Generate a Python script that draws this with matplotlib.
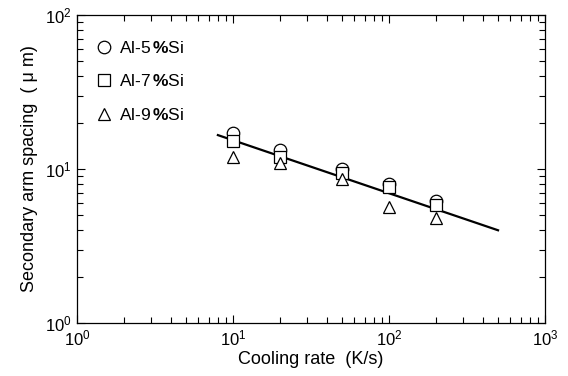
import numpy as np
import matplotlib
matplotlib.use('Agg')
import matplotlib.pyplot as plt

# --- Data ---
cooling_rate = [10, 20, 50, 100, 200]
sdas_al5 = [17.1, 13.3, 10.0, 8.0, 6.2]
sdas_al7 = [15.3, 12.0, 9.4, 7.6, 5.8]
sdas_al9 = [11.9, 10.9, 8.6, 5.7, 4.8]

fit_x = [8, 500]
fit_y = [16.6, 4.0]

labels = [r'Al-5$\,\mathbf{\%}$Si', r'Al-7$\,\mathbf{\%}$Si', r'Al-9$\,\mathbf{\%}$Si']

plt.rcParams['font.family'] = ['Liberation Sans', 'DejaVu Sans']
plt.rcParams['mathtext.fontset'] = 'custom'
plt.rcParams['mathtext.rm'] = 'Liberation Sans'
plt.rcParams['mathtext.it'] = 'Liberation Sans:italic'
plt.rcParams['mathtext.bf'] = 'Liberation Sans:bold'

fig = plt.figure(figsize=(5.68, 3.76), dpi=100)
ax = fig.add_axes([0.1356, 0.141, 0.8239, 0.8191])

# fitted line under the markers
ax.plot(fit_x, fit_y, color='black', lw=1.6, zorder=2)

mk = dict(ls='none', ms=9, mfc='white', mec='black', mew=0.9)
ax.plot(cooling_rate, sdas_al5, marker='o', label=labels[0], zorder=3, **mk)
ax.plot(cooling_rate, sdas_al7, marker='s', label=labels[1], zorder=4, **mk)
ax.plot(cooling_rate, sdas_al9, marker='^', label=labels[2], zorder=5, **mk)

ax.set_xscale('log')
ax.set_yscale('log')
ax.set_xlim(1, 1000)
ax.set_ylim(1, 100)

ax.set_xlabel('Cooling rate  (K/s)', fontsize=13, labelpad=2)
ax.set_ylabel('Secondary arm spacing  ( \u03bc m)', fontsize=13, labelpad=5)

ax.tick_params(which='both', direction='in', top=True, right=True, labelsize=12)
ax.tick_params(which='major', length=6, width=0.8, pad=4)
ax.tick_params(which='minor', length=4, width=0.8)
for sp in ax.spines.values():
    sp.set_linewidth(0.9)

ax.legend(loc='upper left', bbox_to_anchor=(0.0, 0.975), frameon=False,
          fontsize=12.5, handletextpad=0.3, labelspacing=1.0,
          borderaxespad=0.6, handlelength=1.1, numpoints=1)

fig.savefig('out.png', dpi=100)
